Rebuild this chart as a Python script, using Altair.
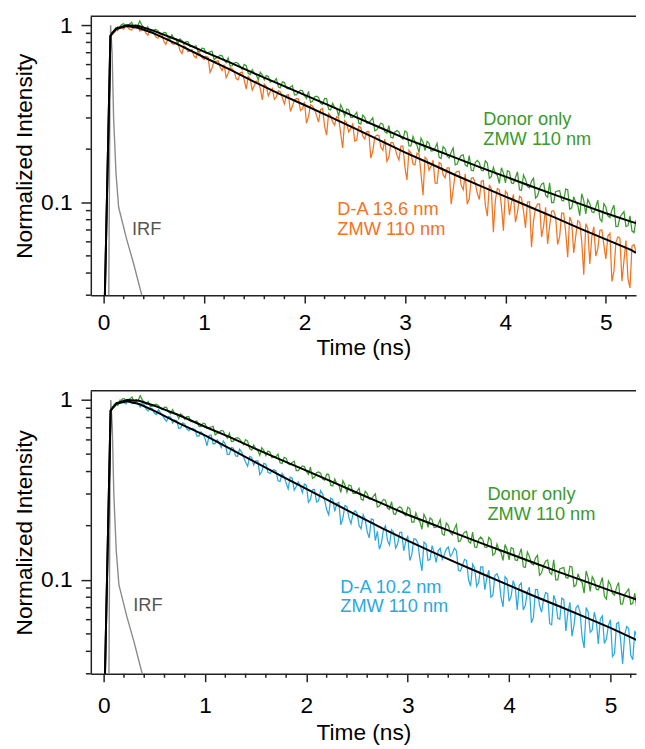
import altair as alt
import pandas as pd

# ---------------- data ----------------
# time bins (ns) of the decay traces: two interleaved sets of bins
t_even = [round(0.08 + 0.04 * i, 2) for i in range(131)]
t_odd = [round(0.10 + 0.04 * i, 2) for i in range(131)]

donor_even = [
    0.89, 0.964, 0.98, 1.02, 0.99, 1.04, 1.005, 1.057, 0.97, 0.98,
    0.928, 0.948, 0.902, 0.912, 0.859, 0.884, 0.84, 0.839, 0.781, 0.809,
    0.76, 0.765, 0.711, 0.738, 0.702, 0.714, 0.653, 0.677, 0.637, 0.654,
    0.591, 0.618, 0.586, 0.601, 0.536, 0.562, 0.524, 0.543, 0.491, 0.514,
    0.483, 0.50, 0.444, 0.475, 0.437, 0.457, 0.405, 0.43, 0.401, 0.424,
    0.372, 0.398, 0.363, 0.387, 0.336, 0.363, 0.338, 0.356, 0.307, 0.334,
    0.302, 0.323, 0.277, 0.302, 0.282, 0.301, 0.257, 0.28, 0.25, 0.272,
    0.231, 0.255, 0.233, 0.253, 0.209, 0.236, 0.21, 0.231, 0.196, 0.216,
    0.196, 0.216, 0.177, 0.201, 0.178, 0.203, 0.165, 0.184, 0.163, 0.184,
    0.151, 0.173, 0.152, 0.172, 0.137, 0.158, 0.142, 0.157, 0.129, 0.149,
    0.128, 0.149, 0.117, 0.135, 0.121, 0.137, 0.109, 0.127, 0.110, 0.129,
    0.10, 0.116, 0.103, 0.119, 0.0917, 0.108, 0.0965, 0.112, 0.0862, 0.0987,
    0.0877, 0.103, 0.0781, 0.094, 0.0821, 0.0966, 0.0734, 0.0859, 0.0731, 0.0842,
    0.0676,
]
donor_odd = [
    0.933, 0.935, 1.009, 0.989, 1.018, 0.968, 0.994, 1.005, 0.947, 0.919,
    0.941, 0.933, 0.884, 0.91, 0.838, 0.841, 0.788, 0.82, 0.809, 0.758,
    0.759, 0.713, 0.743, 0.695, 0.708, 0.639, 0.661, 0.673, 0.614, 0.588,
    0.613, 0.608, 0.564, 0.591, 0.527, 0.535, 0.492, 0.524, 0.52, 0.478,
    0.484, 0.448, 0.48, 0.442, 0.449, 0.405, 0.419, 0.427, 0.386, 0.367,
    0.394, 0.392, 0.358, 0.386, 0.333, 0.342, 0.306, 0.337, 0.337, 0.302,
    0.311, 0.281, 0.311, 0.281, 0.291, 0.254, 0.269, 0.277, 0.246, 0.233,
    0.25, 0.25, 0.227, 0.249, 0.209, 0.219, 0.191, 0.219, 0.221, 0.195,
    0.203, 0.18, 0.207, 0.183, 0.192, 0.163, 0.177, 0.186, 0.16, 0.152,
    0.168, 0.168, 0.151, 0.167, 0.14, 0.146, 0.128, 0.147, 0.151, 0.129,
    0.138, 0.118, 0.143, 0.123, 0.132, 0.106, 0.12, 0.129, 0.107, 0.10,
    0.115, 0.117, 0.102, 0.118, 0.0934, 0.10, 0.0843, 0.1024, 0.104, 0.0886,
    0.0947, 0.081, 0.0984, 0.0841, 0.0908, 0.0732, 0.0827, 0.0889, 0.074, 0.069,
    0.0799,
]

da136_even = [
    0.88, 0.93, 0.955, 0.95, 0.975, 0.94, 0.99, 0.93, 0.955, 0.88,
    0.92, 0.86, 0.885, 0.81, 0.845, 0.79, 0.80, 0.72, 0.765, 0.71,
    0.728, 0.655, 0.69, 0.64, 0.66, 0.575, 0.625, 0.58, 0.60, 0.535,
    0.568, 0.50, 0.54, 0.49, 0.515, 0.43, 0.485, 0.44, 0.465, 0.40,
    0.44, 0.395, 0.42, 0.36, 0.405, 0.35, 0.385, 0.33, 0.37, 0.305,
    0.35, 0.31, 0.335, 0.27, 0.318, 0.285, 0.305, 0.245, 0.29, 0.25,
    0.277, 0.225, 0.265, 0.228, 0.252, 0.195, 0.24, 0.205, 0.228, 0.18,
    0.218, 0.185, 0.208, 0.158, 0.197, 0.165, 0.19, 0.145, 0.18, 0.152,
    0.173, 0.128, 0.165, 0.138, 0.157, 0.118, 0.15, 0.125, 0.145, 0.105,
    0.138, 0.113, 0.132, 0.097, 0.126, 0.068, 0.12, 0.096, 0.116, 0.085,
    0.111, 0.088, 0.106, 0.072, 0.101, 0.079, 0.098, 0.064, 0.094, 0.074,
    0.09, 0.058, 0.087, 0.068, 0.083, 0.052, 0.079, 0.06, 0.076, 0.045,
    0.073, 0.055, 0.07, 0.048, 0.067, 0.041, 0.064, 0.036, 0.061, 0.033,
    0.058,
]
da136_odd = [
    0.901, 0.981, 0.97, 1.003, 0.948, 0.986, 0.994, 0.939, 0.906, 0.935,
    0.904, 0.845, 0.894, 0.78, 0.83, 0.781, 0.802, 0.693, 0.753, 0.716,
    0.67, 0.708, 0.657, 0.668, 0.541, 0.626, 0.632, 0.555, 0.506, 0.577,
    0.549, 0.492, 0.544, 0.436, 0.497, 0.456, 0.482, 0.379, 0.451, 0.424,
    0.382, 0.426, 0.39, 0.403, 0.326, 0.379, 0.384, 0.337, 0.28, 0.356,
    0.335, 0.284, 0.339, 0.24, 0.308, 0.273, 0.301, 0.203, 0.281, 0.26,
    0.222, 0.269, 0.237, 0.251, 0.178, 0.234, 0.239, 0.197, 0.171, 0.218,
    0.204, 0.174, 0.208, 0.134, 0.19, 0.163, 0.188, 0.11, 0.175, 0.16,
    0.129, 0.168, 0.143, 0.157, 0.0978, 0.146, 0.15, 0.118, 0.0979, 0.137,
    0.128, 0.104, 0.133, 0.0837, 0.119, 0.103, 0.118, 0.0694, 0.112, 0.0998,
    0.0775, 0.1086, 0.0898, 0.1006, 0.056, 0.0933, 0.0983, 0.0735, 0.0583, 0.0894,
    0.0829, 0.0642, 0.087, 0.0491, 0.0775, 0.0645, 0.0772, 0.0392, 0.0715, 0.0643,
    0.0498, 0.0697, 0.0577, 0.0647, 0.0359, 0.0598, 0.0628, 0.0469, 0.0371, 0.0568,
    0.0526,
]

da102_even = [
    0.89, 0.96, 1.0, 0.965, 1.01, 0.955, 0.985, 0.915, 0.94, 0.87,
    0.895, 0.83, 0.85, 0.785, 0.81, 0.745, 0.77, 0.70, 0.735, 0.675,
    0.695, 0.63, 0.665, 0.61, 0.635, 0.57, 0.60, 0.545, 0.57, 0.50,
    0.54, 0.485, 0.515, 0.45, 0.485, 0.435, 0.46, 0.40, 0.44, 0.39,
    0.41, 0.355, 0.39, 0.345, 0.372, 0.315, 0.35, 0.305, 0.335, 0.28,
    0.318, 0.275, 0.30, 0.245, 0.285, 0.24, 0.27, 0.22, 0.255, 0.205,
    0.242, 0.20, 0.23, 0.185, 0.218, 0.165, 0.148, 0.19, 0.165, 0.19,
    0.15, 0.183, 0.145, 0.176, 0.138, 0.168, 0.13, 0.162, 0.128, 0.155,
    0.125, 0.15, 0.138, 0.152, 0.14, 0.145, 0.112, 0.13, 0.10, 0.122,
    0.092, 0.118, 0.088, 0.113, 0.082, 0.108, 0.08, 0.104, 0.076, 0.099,
    0.068, 0.096, 0.072, 0.091, 0.062, 0.088, 0.066, 0.085, 0.057, 0.082,
    0.061, 0.079, 0.052, 0.075, 0.056, 0.072, 0.048, 0.07, 0.051, 0.066,
    0.044, 0.063, 0.047, 0.06, 0.039, 0.058, 0.034, 0.055, 0.038, 0.052,
    0.036,
]
da102_odd = [
    0.939, 0.939, 0.986, 0.951, 1.004, 0.959, 0.954, 0.961, 0.888, 0.903,
    0.844, 0.882, 0.821, 0.762, 0.803, 0.773, 0.696, 0.746, 0.691, 0.693,
    0.687, 0.63, 0.647, 0.557, 0.639, 0.574, 0.578, 0.592, 0.498, 0.544,
    0.489, 0.533, 0.484, 0.428, 0.479, 0.458, 0.385, 0.444, 0.396, 0.404,
    0.403, 0.352, 0.375, 0.321, 0.368, 0.33, 0.332, 0.341, 0.27, 0.317,
    0.271, 0.313, 0.277, 0.23, 0.28, 0.266, 0.202, 0.259, 0.221, 0.234,
    0.235, 0.192, 0.217, 0.171, 0.216, 0.186, 0.16, 0.20, 0.156, 0.184,
    0.158, 0.184, 0.163, 0.128, 0.169, 0.16, 0.112, 0.158, 0.13, 0.142,
    0.145, 0.13, 0.148, 0.135, 0.15, 0.113, 0.12, 0.128, 0.0921, 0.116,
    0.0968, 0.118, 0.102, 0.08, 0.106, 0.101, 0.0707, 0.1006, 0.081, 0.0911,
    0.0933, 0.0679, 0.086, 0.0576, 0.0883, 0.0719, 0.0773, 0.0838, 0.0562, 0.0758,
    0.0602, 0.0776, 0.0659, 0.0485, 0.0698, 0.0661, 0.0418, 0.0662, 0.0526, 0.0592,
    0.0606, 0.0442, 0.0559, 0.0374, 0.057, 0.0462, 0.0495, 0.0535, 0.0359, 0.0482,
    0.0383,
]

# instrument response function
irf_t = [0.05, 0.062, 0.07, 0.085, 0.10, 0.124, 0.15, 0.23, 0.30, 0.38, 0.40]
irf_v = [0.02, 0.3, 1.0, 0.70, 0.30, 0.145, 0.094, 0.062, 0.045, 0.030, 0.027]

# fitted curves (black)
fit_t = [0.01, 0.068, 0.085, 0.13, 0.23, 0.35, 0.5, 0.75, 1.0, 1.25, 1.5, 1.75,
         2.0, 2.25, 2.5, 2.75, 3.0, 3.25, 3.5, 3.75, 4.0, 4.25, 4.5, 4.75,
         5.0, 5.25, 5.3]
fit_donor = [0.025, 0.87, 0.90, 0.96, 1.0, 0.99, 0.93, 0.82, 0.71, 0.62, 0.535,
             0.465, 0.405, 0.352, 0.305, 0.265, 0.230, 0.203, 0.179, 0.158,
             0.140, 0.124, 0.110, 0.098, 0.087, 0.078, 0.0765]
fit_da136 = [0.025, 0.87, 0.90, 0.955, 0.99, 0.965, 0.90, 0.775, 0.66, 0.565,
             0.48, 0.41, 0.355, 0.305, 0.262, 0.224, 0.192, 0.166, 0.143,
             0.124, 0.108, 0.094, 0.082, 0.071, 0.062, 0.054, 0.052]
fit_da102 = [0.025, 0.87, 0.90, 0.955, 0.985, 0.95, 0.87, 0.74, 0.635, 0.535,
             0.45, 0.378, 0.32, 0.27, 0.228, 0.193, 0.165, 0.142, 0.123,
             0.107, 0.093, 0.081, 0.071, 0.062, 0.054, 0.0465, 0.045]

# axis ticks
x_major = [0, 1, 2, 3, 4, 5]
x_minor = [0.2, 0.4, 0.6, 0.8, 1.2, 1.4, 1.6, 1.8, 2.2, 2.4, 2.6, 2.8,
           3.2, 3.4, 3.6, 3.8, 4.2, 4.4, 4.6, 4.8, 5.2]
y_major = [0.1, 1]
y_minor = [0.03, 0.04, 0.05, 0.06, 0.07, 0.08, 0.09,
           0.2, 0.3, 0.4, 0.5, 0.6, 0.7, 0.8, 0.9]

# annotations (first-line baseline position)
top_labels = ["Donor only\nZMW 110 nm", "D-A 13.6 nm\nZMW 110 nm", "IRF"]
top_label_t = [3.78, 2.327, 0.283]
top_label_v = [0.274, 0.0847, 0.0656]
bot_labels = ["Donor only\nZMW 110 nm", "D-A 10.2 nm\nZMW 110 nm", "IRF"]
bot_label_t = [3.786, 2.334, 0.291]
bot_label_v = [0.2766, 0.0848, 0.0673]

# ---------------- styling ----------------
FONT = "Liberation Sans"
GREEN = "#3a9a2c"
ORANGE = "#f3721f"
BLUE = "#2aa8e0"
GRAY = "#8a8a8a"
INK = "#222222"
Y_DOMAIN = [0.03, 1.125]


def trace(t_a, v_a, t_b, v_b):
    df = pd.DataFrame({"t": t_a + t_b, "v": v_a + v_b})
    return df.sort_values("t").reset_index(drop=True)


def panel(da_even, da_odd, da_fit, da_color, labels, lab_t, lab_v, width,
          height, xdom, x_label_pad, x_title_pad):
    xs = alt.Scale(domain=xdom, nice=False, zero=False)
    ys = alt.Scale(type="log", domain=Y_DOMAIN, nice=False)
    x_axis = alt.Axis(values=x_major, format="d", tickSize=8,
                      labelPadding=x_label_pad, titlePadding=x_title_pad,
                      title="Time (ns)", labelOverlap=False)
    y_axis = alt.Axis(values=y_major, format="~g", tickSize=10,
                      labelPadding=9, titlePadding=4,
                      title="Normalized Intensity", labelOverlap=False)
    X = alt.X("t:Q", scale=xs, axis=x_axis)
    Y = alt.Y("v:Q", scale=ys, axis=y_axis)

    irf = alt.Chart(pd.DataFrame({"t": irf_t, "v": irf_v})).mark_line(
        color=GRAY, strokeWidth=1.4, clip=True).encode(x=X, y=Y)
    da = alt.Chart(trace(t_even, da_even, t_odd, da_odd)).mark_line(
        color=da_color, strokeWidth=1.25, clip=True).encode(x=X, y=Y)
    dn = alt.Chart(trace(t_even, donor_even, t_odd, donor_odd)).mark_line(
        color=GREEN, strokeWidth=1.25, clip=True).encode(x=X, y=Y)
    f_dn = alt.Chart(pd.DataFrame({"t": fit_t, "v": fit_donor})).mark_line(
        color="black", strokeWidth=2, clip=True).encode(x=X, y=Y)
    f_da = alt.Chart(pd.DataFrame({"t": fit_t, "v": da_fit})).mark_line(
        color="black", strokeWidth=2, clip=True).encode(x=X, y=Y)

    cols = [GREEN, da_color, "#555555"]
    txt = alt.Chart(pd.DataFrame({"t": lab_t, "v": lab_v, "s": labels,
                                  "c": cols})).mark_text(
        align="left", baseline="alphabetic", font=FONT, fontSize=18.5,
        lineBreak="\n", lineHeight=20).encode(
        x=X, y=Y, text="s:N", color=alt.Color("c:N", scale=None))

    ymin = alt.Chart(pd.DataFrame({"v": y_minor})).mark_rule(
        color=INK, strokeWidth=1.5).encode(
        y=Y, x=alt.value(-5), x2=alt.value(0))
    xmin = alt.Chart(pd.DataFrame({"t": x_minor})).mark_rule(
        color=INK, strokeWidth=1.5).encode(
        x=X, y=alt.value(height), y2=alt.value(height + 4))
    top = alt.Chart(pd.DataFrame({"k": [0]})).mark_rule(
        color=INK, strokeWidth=1.5).encode(
        x=alt.value(0), x2=alt.value(width), y=alt.value(0))

    return alt.layer(irf, da, dn, f_dn, f_da, txt, ymin, xmin, top).properties(
        width=width, height=height)


top_panel = panel(da136_even, da136_odd, fit_da136, ORANGE, top_labels,
                  top_label_t, top_label_v, 553, 283, [-0.127, 5.30], 9, 2)
bottom_panel = panel(da102_even, da102_odd, fit_da102, BLUE, bot_labels,
                     bot_label_t, bot_label_v, 553, 287, [-0.127, 5.252], 13, 5)

chart = alt.vconcat(top_panel, bottom_panel, spacing=30).properties(
    padding={"left": 6, "top": 1, "right": 0, "bottom": 0}
).configure_view(stroke=None).configure_axis(
    domainColor=INK, domainWidth=1.5, tickColor=INK, tickWidth=1.5,
    labelFont=FONT, titleFont=FONT, labelFontSize=23, titleFontSize=23,
    titleFontWeight="normal", labelColor="black", titleColor="black",
    grid=False)

chart.save("out.html", embed_options={"renderer": "svg", "actions": False})
